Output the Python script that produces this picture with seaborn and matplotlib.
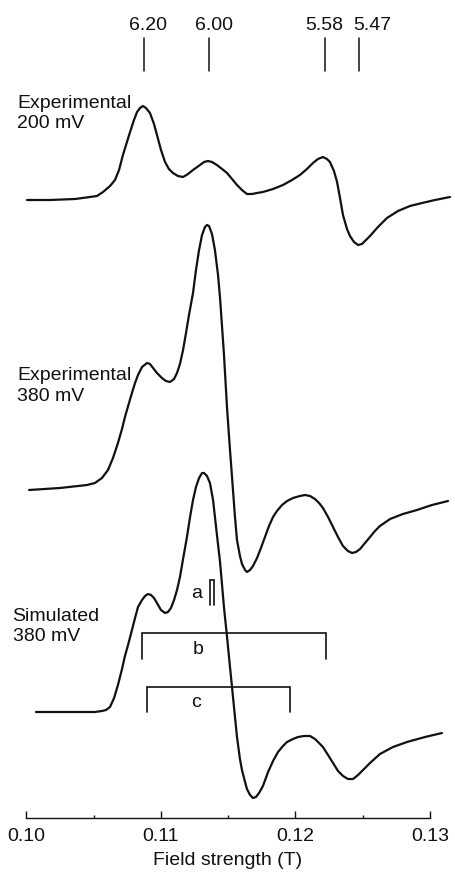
import matplotlib
matplotlib.use("Agg")
import matplotlib.pyplot as plt
import numpy as np
import pandas as pd
import seaborn as sns

# ---------------------------------------------------------------------------
# EPR spectra (field in tesla, derivative signal in arbitrary units)
# ---------------------------------------------------------------------------
field_exp200 = [0.10004, 0.10175, 0.10361, 0.10472, 0.10524, 0.10569, 0.10621, 0.10658, 0.10688, 0.10717,
                0.10747, 0.10770, 0.10799, 0.10822, 0.10844, 0.10866, 0.10888, 0.10918, 0.10948, 0.10970,
                0.11000, 0.11030, 0.11059, 0.11089, 0.11126, 0.11164, 0.11201, 0.11238, 0.11290, 0.11320,
                0.11349, 0.11379, 0.11416, 0.11454, 0.11491, 0.11528, 0.11565, 0.11602, 0.11639, 0.11677,
                0.11714, 0.11758, 0.11833, 0.11907, 0.11974, 0.12033, 0.12085, 0.12130, 0.12167, 0.12204,
                0.12234, 0.12256, 0.12286, 0.12309, 0.12331, 0.12353, 0.12383, 0.12405, 0.12435, 0.12465,
                0.12494, 0.12524, 0.12554, 0.12613, 0.12680, 0.12762, 0.12851, 0.12941, 0.13037, 0.13149]
signal_exp200 = [0, 0, 1, 3, 4, 8, 14, 20, 30, 45,
                 58, 68, 80, 88, 92, 94, 92, 87, 76, 65,
                 50, 38, 31, 27, 24, 23, 26, 30, 35, 38,
                 39, 38, 35, 31, 27, 21, 15, 10, 6, 6,
                 7, 8, 11, 15, 20, 25, 31, 37, 41, 43,
                 41, 38, 29, 18, 2, -15, -29, -36, -42, -45,
                 -44, -40, -36, -27, -18, -11, -6, -3, 0, 3]

field_exp380 = [0.10019, 0.10249, 0.10450, 0.10509, 0.10561, 0.10606, 0.10643, 0.10680, 0.10710, 0.10732,
                0.10762, 0.10784, 0.10807, 0.10829, 0.10859, 0.10896, 0.10918, 0.10941, 0.10970, 0.11007,
                0.11037, 0.11067, 0.11097, 0.11119, 0.11141, 0.11164, 0.11186, 0.11208, 0.11238, 0.11260,
                0.11283, 0.11305, 0.11327, 0.11342, 0.11357, 0.11379, 0.11401, 0.11424, 0.11439, 0.11454,
                0.11468, 0.11491, 0.11513, 0.11528, 0.11550, 0.11565, 0.11587, 0.11602, 0.11625, 0.11639,
                0.11662, 0.11684, 0.11714, 0.11743, 0.11773, 0.11803, 0.11833, 0.11862, 0.11900, 0.11937,
                0.11981, 0.12033, 0.12071, 0.12108, 0.12145, 0.12175, 0.12204, 0.12242, 0.12279, 0.12316,
                0.12353, 0.12390, 0.12420, 0.12450, 0.12480, 0.12517, 0.12554, 0.12591, 0.12628, 0.12703,
                0.12799, 0.12903, 0.13015, 0.13134]
signal_exp380 = [0, 2, 5, 7, 12, 20, 32, 47, 61, 73,
                 87, 97, 107, 115, 123, 127, 126, 122, 117, 112,
                 109, 108, 111, 117, 126, 140, 157, 175, 197, 220,
                 240, 255, 263, 265, 264, 256, 240, 215, 192, 163,
                 136, 82, 40, 13, -27, -50, -66, -74, -80, -82,
                 -80, -76, -68, -58, -47, -36, -27, -21, -15, -11,
                 -8, -6, -5, -6, -9, -13, -18, -27, -37, -47,
                 -56, -61, -63, -62, -59, -53, -47, -41, -36, -29,
                 -24, -20, -15, -11]

field_sim380 = [0.10071, 0.10323, 0.10509, 0.10561, 0.10591, 0.10621, 0.10651, 0.10680, 0.10710, 0.10732,
                0.10755, 0.10784, 0.10807, 0.10829, 0.10859, 0.10881, 0.10903, 0.10926, 0.10948, 0.10970,
                0.11000, 0.11030, 0.11052, 0.11074, 0.11097, 0.11119, 0.11141, 0.11164, 0.11193, 0.11216,
                0.11238, 0.11260, 0.11283, 0.11305, 0.11320, 0.11342, 0.11364, 0.11387, 0.11401, 0.11416,
                0.11439, 0.11454, 0.11468, 0.11491, 0.11513, 0.11528, 0.11550, 0.11565, 0.11587, 0.11602,
                0.11625, 0.11639, 0.11662, 0.11684, 0.11706, 0.11729, 0.11758, 0.11796, 0.11833, 0.11870,
                0.11907, 0.11937, 0.11981, 0.12019, 0.12063, 0.12108, 0.12145, 0.12175, 0.12204, 0.12242,
                0.12279, 0.12316, 0.12353, 0.12390, 0.12428, 0.12465, 0.12502, 0.12554, 0.12628, 0.12725,
                0.12829, 0.12963, 0.13089]
signal_sim380 = [0, 0, 0, 1, 2, 5, 14, 27, 43, 56,
                 67, 82, 94, 105, 112, 116, 118, 117, 114, 109,
                 102, 99, 100, 104, 112, 122, 135, 153, 175, 195,
                 212, 225, 234, 239, 239, 236, 229, 212, 195, 177,
                 150, 127, 105, 75, 45, 25, -5, -25, -47, -58,
                 -70, -77, -83, -86, -85, -81, -74, -60, -49, -40,
                 -34, -30, -27, -25, -24, -24, -27, -31, -35, -43,
                 -51, -59, -64, -67, -67, -63, -58, -51, -42, -35,
                 -30, -25, -21]

# vertical stacking of the three traces
trace_offsets = [512, 222, 0]
trace_labels = ["Experimental\n200 mV", "Experimental\n380 mV", "Simulated\n380 mV"]

# effective g-value markers along the top
g_labels = ["6.20", "6.00", "5.58", "5.47"]
g_line_field = [0.10874, 0.11357, 0.12220, 0.12472]
g_text_field = [0.10903, 0.11394, 0.12212, 0.12569]

# splitting brackets under the simulated spectrum
bracket_names = ["a", "b", "c"]
bracket_start = [0.11364, 0.10859, 0.10896]
bracket_end = [0.11394, 0.12227, 0.11959]
bracket_top = [132, 79, 25]
bracket_bottom = [107, 53, 0]
bracket_text_field = [0.11268, 0.11275, 0.11260]
bracket_text_y = [119, 63, 10]

x_ticks = [0.10, 0.11, 0.12, 0.13]
x_minor = [0.105, 0.115, 0.125]
x_ticklabels = ["0.10", "0.11", "0.12", "0.13"]

# ---------------------------------------------------------------------------
sns.set_style("white")
plt.rcParams["font.family"] = ["Liberation Sans", "DejaVu Sans"]
plt.rcParams["font.size"] = 14

ink = "#111111"
fig = plt.figure(figsize=(4.56, 8.72), dpi=100)
ax = fig.add_axes([0.0, 54 / 872, 1.0, 818 / 872])
ax.set_xlim(0.098030, 0.131933)
ax.set_ylim(-106, 712)

traces = [(field_exp200, signal_exp200), (field_exp380, signal_exp380),
          (field_sim380, signal_sim380)]
for (fx, sy), off in zip(traces, trace_offsets):
    df = pd.DataFrame({"field": fx, "signal": np.asarray(sy, float) + off})
    sns.lineplot(data=df, x="field", y="signal", ax=ax, color=ink, lw=1.6,
                 estimator=None, sort=False, clip_on=False,
                 solid_joinstyle="round", solid_capstyle="round")

# trace captions
caption_pos = [(0.09929, 598.5), (0.09929, 326), (0.09896, 85.5)]
for (cx, cy), lab in zip(caption_pos, trace_labels):
    ax.text(cx, cy, lab, ha="left", va="center", color=ink, fontsize=14,
            linespacing=1.25)

# g-value markers
for gl, lx, tx in zip(g_labels, g_line_field, g_text_field):
    ax.plot([lx, lx], [641, 674], color=ink, lw=1.1, clip_on=False)
    ax.text(tx, 687, gl, ha="center", va="center", color=ink, fontsize=14)

# splitting brackets
for name, x0, x1, yt, yb, tx, ty in zip(bracket_names, bracket_start, bracket_end,
                                        bracket_top, bracket_bottom,
                                        bracket_text_field, bracket_text_y):
    ax.plot([x0, x0, x1, x1], [yb, yt, yt, yb], color=ink, lw=1.2,
            solid_joinstyle="miter", clip_on=False)
    ax.text(tx, ty, name, ha="center", va="center", color=ink, fontsize=14)

# bottom field axis
for side in ["top", "right", "left"]:
    ax.spines[side].set_visible(False)
ax.spines["bottom"].set_bounds(0.10, 0.13)
ax.spines["bottom"].set_color(ink)
ax.spines["bottom"].set_linewidth(1.0)
ax.set_yticks([])
ax.set_xticks(x_ticks)
ax.set_xticklabels(x_ticklabels)
ax.set_xticks(x_minor, minor=True)
ax.tick_params(axis="x", which="major", direction="in", length=5, width=1.0,
               color=ink, labelsize=14, labelcolor=ink, pad=7, bottom=True)
ax.tick_params(axis="x", which="minor", direction="in", length=2.5, width=1.0,
               color=ink, bottom=True)
ax.set_xlabel("Field strength (T)", fontsize=14, color=ink, labelpad=5)
ax.set_ylabel("")
ax.patch.set_alpha(0)

fig.savefig("out.png", dpi=100)
